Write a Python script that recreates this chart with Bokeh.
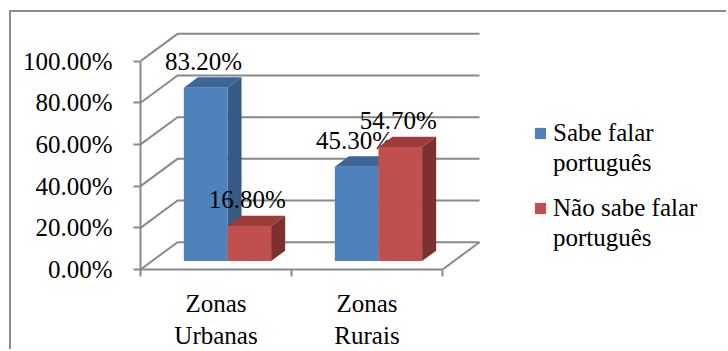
from bokeh.plotting import figure
from bokeh.models import (Range1d, FixedTicker, NumeralTickFormatter, Legend,
                          LegendItem, LinearAxis)
from bokeh.embed import file_html
from bokeh.resources import INLINE
from bokeh.core.properties import value

# ---- data ----
categories = ["Zonas\nUrbanas", "Zonas\nRurais"]
series_names = [["Sabe falar", "português"], ["Não sabe falar", "português"]]
sabe = [0.832, 0.453]
nao_sabe = [0.168, 0.547]
y_ticks = [0.0, 0.2, 0.4, 0.6, 0.8, 1.0]

# ---- style / layout ----
FONT = "Liberation Serif"
FS = "25px"
GRAY = "#898989"
front_cols = ["#4F81BD", "#C0504D"]
side_cols = ["#375A84", "#7D302E"]
top_cols = ["#3D6596", "#9B3C3A"]

W, H = 717, 339
ML, MB = 129, 80
PX_X, PX_Y = 151.0, 210.0
frame_w, frame_h = W - ML, H - MB

DX = 37.0 / PX_X          # depth offset (x units)
DY = 27.5 / PX_Y          # depth offset (y units)
F0, F1 = 0.31, 0.69       # bar front / back depth fraction
GAP = 0.211               # gap at each side of a group
BW = (1 - 2 * GAP) / 2    # bar width

p = figure(width=W, height=H, output_backend="svg", toolbar_location=None,
           x_range=Range1d(0, frame_w / PX_X), y_range=Range1d(0, frame_h / PX_Y),
           min_border_left=ML, min_border_right=0, min_border_top=0,
           min_border_bottom=MB, x_axis_type=None, y_axis_type=None)
p.outline_line_color = None
p.background_fill_color = "white"
p.border_fill_color = "white"
p.margin = (10, 0, 0, 9)
p.styles = {"border-left": "2px solid #8c8c8c", "border-top": "2px solid #8c8c8c"}

n = len(categories)

# ---- walls / gridlines ----
gx, gy = [], []
for t in y_ticks:
    gx.append([0, DX, n + DX])
    gy.append([t, t + DY, t + DY])
gx.append([n, n + DX])
gy.append([0, DY])
p.multi_line(gx, gy, line_color=GRAY, line_width=2)

# ---- axes ----
yaxis = LinearAxis(ticker=FixedTicker(ticks=y_ticks),
                   formatter=NumeralTickFormatter(format="0.00%"),
                   bounds=(0, 1))
yaxis.axis_line_color = GRAY
yaxis.axis_line_width = 2
yaxis.major_tick_line_color = GRAY
yaxis.major_tick_line_width = 2
yaxis.major_tick_out = 7
yaxis.major_tick_in = 0
yaxis.minor_tick_line_color = None
yaxis.major_label_text_font = FONT
yaxis.major_label_text_font_size = FS
yaxis.major_label_text_color = "black"
yaxis.major_label_standoff = 21
p.add_layout(yaxis, "left")

centers = [i + 0.5 for i in range(n)]
xaxis = LinearAxis(ticker=FixedTicker(ticks=centers, minor_ticks=list(range(n + 1))),
                   bounds=(0, n))
xaxis.major_label_overrides = {c: lab for c, lab in zip(centers, categories)}
xaxis.axis_line_color = GRAY
xaxis.axis_line_width = 2
xaxis.major_tick_line_color = None
xaxis.minor_tick_line_color = GRAY
xaxis.minor_tick_line_width = 2
xaxis.minor_tick_out = 7
xaxis.minor_tick_in = 0
xaxis.major_label_text_font = FONT
xaxis.major_label_text_font_size = FS
xaxis.major_label_text_color = "black"
xaxis.major_label_standoff = 13
p.add_layout(xaxis, "below")

# invisible renderer for legend continuation lines
blank = p.quad(left=[], right=[], bottom=[], top=[], fill_alpha=0, line_alpha=0)

# ---- bars ----
for s, vals in enumerate([sabe, nao_sabe]):
    fl, fr, fb, ft = [], [], [], []
    sxs, sys_, txs, tys = [], [], [], []
    lx, ly, lt = [], [], []
    for i, v in enumerate(vals):
        x0 = i + GAP + s * BW
        x1 = x0 + BW
        fl.append(x0 + F0 * DX); fr.append(x1 + F0 * DX)
        fb.append(F0 * DY); ft.append(v + F0 * DY)
        sxs.append([x1 + F0 * DX, x1 + F1 * DX, x1 + F1 * DX, x1 + F0 * DX])
        sys_.append([F0 * DY, F1 * DY, v + F1 * DY, v + F0 * DY])
        txs.append([x0 + F0 * DX, x1 + F0 * DX, x1 + F1 * DX, x0 + F1 * DX])
        tys.append([v + F0 * DY, v + F0 * DY, v + F1 * DY, v + F1 * DY])
        lx.append((x0 + x1) / 2 + F0 * DX)
        ly.append(v + F0 * DY)
        lt.append(f"{v * 100:.2f}%")
    p.patches(sxs, sys_, fill_color=side_cols[s], line_color=None)
    p.patches(txs, tys, fill_color=top_cols[s], line_color=None)
    r = p.quad(left=fl, right=fr, bottom=fb, top=ft, fill_color=front_cols[s], line_color=None)
    p.text(lx, ly, text=lt, text_font=value(FONT), text_font_size=FS,
           text_align="center", text_baseline="alphabetic", x_offset=-2, y_offset=-26.5,
           text_color="black")

    first, second = series_names[s]
    lg = Legend(items=[LegendItem(label=first, renderers=[r]),
                       LegendItem(label=second, renderers=[blank])],
                location=(393, 91 - 75 * s))
    lg.glyph_width = 14
    lg.glyph_height = 14
    lg.label_standoff = 6
    lg.label_height = 30
    lg.label_text_font = FONT
    lg.label_text_font_size = FS
    lg.label_text_color = "black"
    lg.padding = 0
    lg.margin = 0
    lg.spacing = 0
    lg.border_line_color = None
    lg.background_fill_alpha = 0
    p.add_layout(lg)

open("out.html", "w").write(file_html(p, INLINE))
